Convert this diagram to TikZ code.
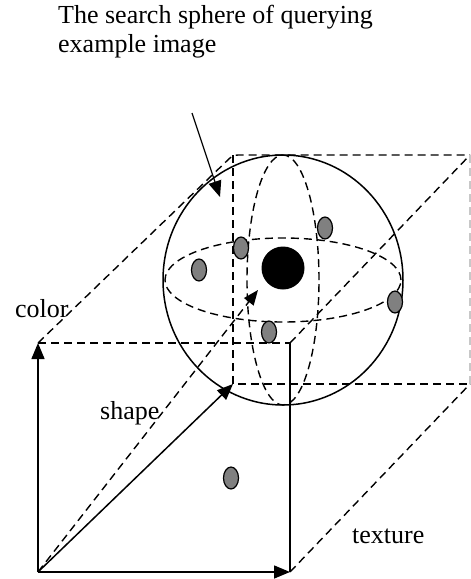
\documentclass[tikz,border=0pt]{standalone}
\usepackage{fontspec}
\setmainfont{Liberation Serif}
\usetikzlibrary{shapes.geometric, arrows.meta, positioning}
\definecolor{dotgray}{RGB}{128, 128, 128}
\definecolor{edgegray}{RGB}{200, 200, 200}
\tikzset{
    solidline/.style={line width=1.5pt},
    dashline/.style={line width=1.4pt, dash pattern=on 8pt off 5pt},
    axisarrow/.style={solidline, -{Triangle[length=16pt, width=13pt]}},
    querysample/.style={draw, ellipse, line width=1.2pt, fill=dotgray, minimum width=15pt, minimum height=22pt, inner sep=0pt},
    queryimage/.style={circle, fill=black, minimum size=43pt, inner sep=0pt},
    axislabel/.style={font=\fontsize{26}{29}\selectfont, inner sep=0pt},
}
\begin{document}
\begin{tikzpicture}[x=1pt, y=-1pt]
    \useasboundingbox (0,0) rectangle (471,579);

    % Corners of the feature space
    \coordinate (O) at (38,572);
    \coordinate (C) at (38,343);
    \coordinate (T) at (290,572);
    \coordinate (F) at (290,343);
    \coordinate (S) at (233,384);
    \coordinate (B) at (233,155);
    \coordinate (R) at (470,155);
    \coordinate (RB) at (470,384);
    \coordinate (Q) at (258,290);
    \coordinate (ctr) at (283,280);

    % Hidden edges
    \draw[dashline] (C) -- (F);
    \draw[dashline, rounded corners=5pt] (C) -- (B) -- (R);
    \draw[dashline] (F) -- (R);
    \draw[dashline] (B) -- (S) -- (RB);
    \draw[dashline] (T) -- (RB);
    \draw[dashline, draw=edgegray] (R) -- (RB);

    % Front edge
    \draw[solidline] (T) -- (F);

    % Search sphere
    \draw[solidline] (ctr) ellipse [x radius=120pt, y radius=125pt];
    \draw[dashline] (ctr) ellipse [x radius=118pt, y radius=42pt];
    \draw[dashline] (ctr) ellipse [x radius=36pt, y radius=125pt];

    % Axes
    \draw[axisarrow] (O) -- (C);
    \draw[axisarrow] (O) -- (T);
    \draw[axisarrow] (O) -- (S);
    \draw[dashline, -{Triangle[length=15pt, width=12pt]}] (O) -- (Q);

    % Images
    \node[queryimage] (qry) at (283,268) {};
    \node[querysample] (s1) at (199,270) {};
    \node[querysample] (s2) at (241,248) {};
    \node[querysample] (s3) at (325,228) {};
    \node[querysample] (s4) at (395,302) {};
    \node[querysample] (s5) at (269,332) {};
    \node[querysample] (s6) at (231,478) {};

    % Pointer to the sphere
    \coordinate (ptr) at (192,113);
    \coordinate (hit) at (220,197);
    \draw[axisarrow, line width=1.2pt] (ptr) -- (hit);

    % Labels
    \node[axislabel, anchor=north west, align=left] (title) at (58,5) {The search sphere of querying\\example image};
    \node[axislabel, anchor=base west] (color) at (15,317) {color};
    \node[axislabel, anchor=base west] (shape) at (100,419) {shape};
    \node[axislabel, anchor=base west] (texture) at (352,543) {texture};
\end{tikzpicture}
\end{document}
